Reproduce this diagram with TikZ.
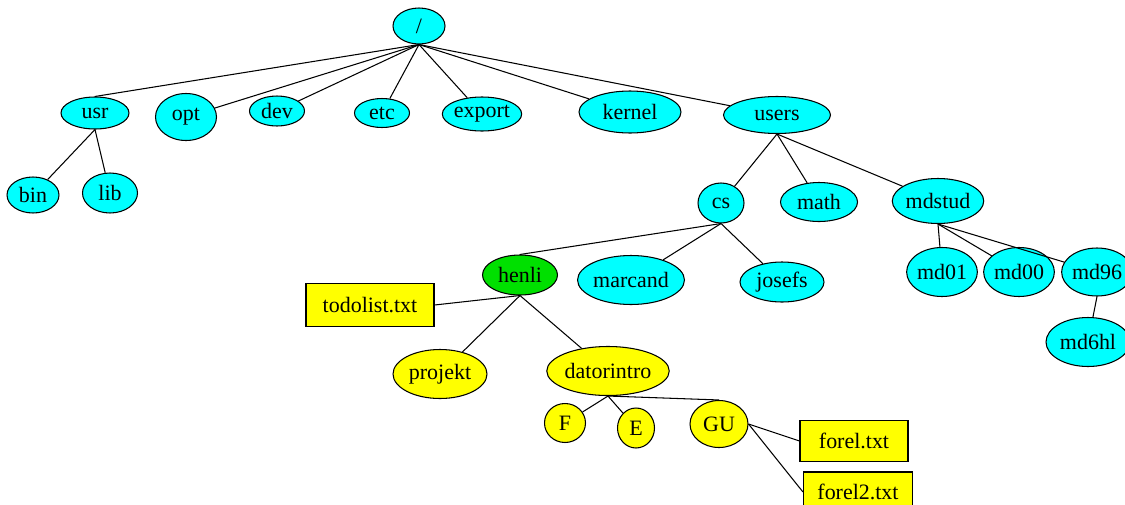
\documentclass[tikz,border=0pt]{standalone}
\usepackage{fontspec}
\setmainfont{Liberation Serif}
\usepackage{tikz}
\usetikzlibrary{shapes.geometric}
\definecolor{dircyan}{RGB}{0,255,255}
\definecolor{fileyellow}{RGB}{255,255,0}
\definecolor{homegreen}{RGB}{0,224,0}
\tikzset{
  dir/.style={ellipse, draw, fill=dircyan, inner sep=0pt, line width=0.6pt},
  sub/.style={ellipse, draw, fill=fileyellow, inner sep=0pt, line width=0.6pt},
  file/.style={rectangle, draw, fill=fileyellow, inner sep=0pt, line width=0.6pt},
  sz/.style 2 args={minimum width=#1*0.02cm, minimum height=#2*0.02cm},
  link/.style={line width=0.6pt}
}

\begin{document}
\begin{tikzpicture}[x=0.02cm, y=-0.02cm, every node/.style={font=\fontsize{12.5}{14}\selectfont}]
\useasboundingbox (0,0) rectangle (1125,504);

\node (root) at (419,26) [dir, sz={52}{36}] {/};

\node (usr) at (95,113) [dir, sz={68}{32}] {usr};
\node (opt) at (186,117) [dir, sz={61}{47}] {opt};
\node (dev) at (277,111) [dir, sz={55}{30}] {dev};
\node (etc) at (382,113) [dir, sz={55}{29}] {etc};
\node (export) at (482,114) [dir, sz={79}{34}] {export};
\node (kernel) at (630,112) [dir, sz={102}{42}] {kernel};
\node (users) at (777,115) [dir, sz={107}{37}] {users};

\node (bin) at (33,195) [dir, sz={52}{36}] {bin};
\node (lib) at (110,193) [dir, sz={55}{40}] {lib};

\node (cs) at (721,203) [dir, sz={46}{40}] {cs};
\node (math) at (819,202) [dir, sz={77}{39}] {math};
\node (mdstud) at (938,201) [dir, sz={90}{45}] {mdstud};

\node (henli) at (520,275) [ellipse, draw, fill=homegreen, inner sep=0pt, line width=0.6pt, sz={75}{40}] {henli};
\node (marcand) at (631,280) [dir, sz={106}{49}] {marcand};
\node (josefs) at (782,282) [dir, sz={84}{40}] {josefs};

\node (md01) at (942,272) [dir, sz={70}{49}] {md01};
\node (md00) at (1019,272) [dir, sz={65}{49}] {md00};
\node (md96) at (1097,272) [dir, sz={64}{48}] {md96};
\node (md6hl) at (1088,342) [dir, sz={84}{49}] {md6hl};

\node (todolist) at (370,305) [file, sz={128}{43}] {todolist.txt};
\node (projekt) at (440,374) [sub, sz={94}{49}] {projekt};
\node (datorintro) at (608,371) [sub, sz={121}{49}] {datorintro};

\node (F) at (565,423) [sub, sz={41}{39}] {F};
\node (E) at (636,428) [sub, sz={37}{40}] {E};
\node (GU) at (719,424) [sub, sz={58}{47}] {GU};

\node (forel) at (854,441) [file, sz={108}{41}] {forel.txt};
\node (forelb) at (858,492) [file, sz={109}{40}] {forel2.txt};

% root level
\draw[link] (root.south) -- (usr.north);
\draw[link] (root.south) -- (opt);
\draw[link] (root.south) -- (dev);
\draw[link] (root.south) -- (etc);
\draw[link] (root.south) -- (export);
\draw[link] (root.south) -- (kernel);
\draw[link] (root.south) -- (users);

\draw[link] (usr.south) -- (bin);
\draw[link] (usr.south) -- (lib);

\draw[link] (users.south) -- (cs);
\draw[link] (users.south) -- (math);
\draw[link] (users.south) -- (mdstud);

\draw[link] (cs.south) -- (henli.north);
\draw[link] (cs.south) -- (marcand);
\draw[link] (cs.south) -- (josefs);

\draw[link] (mdstud.south) -- (md01);
\draw[link] (mdstud.south) -- (md00);
\draw[link] (mdstud.south) -- (md96);
\draw[link] (md96.south) -- (md6hl);

% henli
\draw[link] (henli.south) -- (todolist.east);
\draw[link] (henli.south) -- (projekt);
\draw[link] (henli.south) -- (datorintro);

\draw[link] (datorintro.south) -- (F);
\draw[link] (datorintro.south) -- (E);
\draw[link] (datorintro.south) -- (GU.north);

\draw[link] (GU.east) -- (forel.west);
\draw[link] (GU.east) -- (forelb.west);
\end{tikzpicture}
\end{document}
